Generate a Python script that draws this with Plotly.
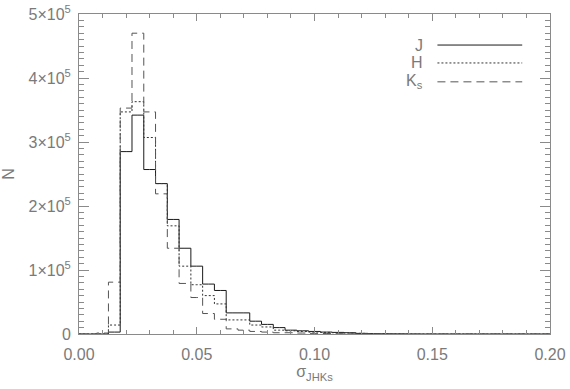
import plotly.graph_objects as go

# bin centres (width 0.005)
sigma = [round(0.005 * i, 3) for i in range(41)]

J = [0, 0, 0, 3000, 285000, 342000, 257000, 235000, 179000, 134000, 106000,
     78000, 68000, 33000, 33000, 20000, 15000, 10000, 6000, 5000, 4000,
     3000, 2500, 2000, 1000, 500, 300, 200, 100, 0, 0,
     0, 0, 0, 0, 0, 0, 0, 0, 0, 0]
H = [0, 0, 0, 14000, 347000, 363000, 307000, 235000, 169000, 106000, 77000,
     60000, 47000, 22000, 22000, 14000, 11000, 6000, 5000, 4000, 3000,
     2500, 2000, 1500, 1000, 500, 300, 200, 100, 0, 0,
     0, 0, 0, 0, 0, 0, 0, 0, 0, 0]
K = [0, 0, 1500, 81000, 353000, 470000, 347000, 219000, 134000, 79000, 57000,
     32000, 23000, 8000, 6000, 4000, 3000, 2000, 2000, 1500, 1000,
     800, 500, 300, 200, 100, 0, 0, 0, 0, 0,
     0, 0, 0, 0, 0, 0, 0, 0, 0, 0]

series = [("J", J, "solid", "#1a1a1a"),
          ("H", H, "2px,2px", "#333333"),
          ("K<sub>s</sub>", K, "8px,5px", "#555555")]

ytick_vals = [0, 100000, 200000, 300000, 400000, 500000]
ytick_text = ["0", "1×10<sup>5</sup>", "2×10<sup>5</sup>", "3×10<sup>5</sup>",
              "4×10<sup>5</sup>", "5×10<sup>5</sup>"]
xtick_vals = [0.0, 0.05, 0.10, 0.15, 0.20]
xtick_text = ["0.00", "0.05", "0.10", "0.15", "0.20"]

FONT = "Liberation Sans, Arial, sans-serif"
GRAY = "#7a7a7a"

fig = go.Figure()
for name, vals, dash, col in series:
    fig.add_trace(go.Scatter(x=sigma, y=vals, mode="lines", line_shape="hvh",
                             line=dict(color=col, width=1, dash=dash),
                             name=name, showlegend=False, hoverinfo="skip"))

# manual legend: text on the left, line sample on the right
leg_y = [0.903, 0.847, 0.788]
for (name, vals, dash, col), yy in zip(series, leg_y):
    fig.add_annotation(x=0.735, y=yy, xref="paper", yref="paper", text=name,
                       showarrow=False, xanchor="right", yanchor="middle",
                       font=dict(family=FONT, size=16, color=GRAY))
    fig.add_shape(type="line", xref="paper", yref="paper",
                  x0=0.761, x1=0.941, y0=yy, y1=yy,
                  line=dict(color=col, width=1, dash=dash))

axis_common = dict(showgrid=False, zeroline=False, showline=True,
                   linecolor="#8a8a8a", linewidth=1, mirror="allticks",
                   ticks="inside", tickcolor="#8a8a8a", automargin=False,
                   tickfont=dict(family=FONT, size=16, color=GRAY))

fig.update_xaxes(range=[0, 0.2], tickvals=xtick_vals, ticktext=xtick_text,
                 ticklen=7, ticklabelstandoff=6,
                 minor=dict(ticks="inside", dtick=0.01, ticklen=4,
                            tickcolor="#8a8a8a"),
                 title=dict(text="σ<sub>JHKs</sub>",
                            font=dict(family=FONT, size=16, color=GRAY),
                            standoff=0),
                 **axis_common)
fig.update_yaxes(range=[0, 500000], tickvals=ytick_vals, ticktext=ytick_text,
                 ticklen=10, ticklabelstandoff=4,
                 minor=dict(ticks="inside", dtick=10000, ticklen=5,
                            tickcolor="#8a8a8a"),
                 title=dict(text="N", font=dict(family=FONT, size=16, color=GRAY),
                            standoff=12),
                 **axis_common)

fig.update_layout(width=570, height=389, margin=dict(l=79, r=20, t=14, b=55),
                  plot_bgcolor="white", paper_bgcolor="white",
                  font=dict(family=FONT))

fig.write_html("out.html", config={"displayModeBar": False},
               post_script="document.body.style.margin='0';document.body.style.overflow='hidden';")
